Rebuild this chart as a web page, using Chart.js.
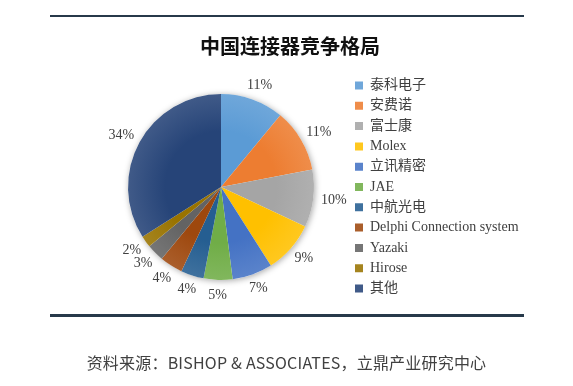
<!DOCTYPE html>
<html>
<head>
<meta charset="utf-8">
<script src="https://cdn.jsdelivr.net/npm/chart.js@4/dist/chart.umd.min.js"></script>
<style>
  html, body { margin: 0; padding: 0; background: #fff; }
  #wrap { position: relative; width: 573px; height: 386px; overflow: hidden; }
  #c { position: absolute; left: 0; top: 0; }
  .rule { position: absolute; left: 50px; width: 474px; height: 2px; background: #27394a; }
  #title { position: absolute; left: 0; width: 580px; top: 34px; text-align: center;
           font: bold 20px/24px "Noto Sans CJK SC", sans-serif; color: #111; }
  #src { position: absolute; left: 0; width: 573px; top: 350px; text-align: center;
         font: 16px "Noto Sans CJK SC", "Noto Sans", sans-serif; color: #404040; letter-spacing: .2px; }
</style>
</head>
<body>
<div id="wrap">
  <canvas id="c" width="573" height="386"></canvas>
  <div class="rule" style="top:15px"></div>
  <div id="title">中国连接器竞争格局</div>
  <div class="rule" style="top:314px;height:3px"></div>
  <div id="src">资料来源：BISHOP &amp; ASSOCIATES，立鼎产业研究中心</div>
</div>
<script>
/* 中国连接器竞争格局 — market share, % */
var companies = ['泰科电子', '安费诺', '富士康', 'Molex', '立讯精密', 'JAE', '中航光电',
                 'Delphi Connection system', 'Yazaki', 'Hirose', '其他'];
var shares = [11, 11, 10, 9, 7, 5, 4, 4, 3, 2, 34];
var colors = ['#5B9BD5', '#ED7D31', '#A5A5A5', '#FFC000', '#4472C4', '#70AD47',
              '#255E91', '#9E480E', '#636363', '#997300', '#264478'];

var SERIF = "'Liberation Serif', 'Noto Sans CJK SC', serif";

function lighten(hex, k) {
  var n = parseInt(hex.slice(1), 16);
  var r = n >> 16, g = (n >> 8) & 255, b = n & 255;
  r = Math.round(r + (255 - r) * k); g = Math.round(g + (255 - g) * k); b = Math.round(b + (255 - b) * k);
  return 'rgb(' + r + ',' + g + ',' + b + ')';
}

/* soft shadow under the whole pie */
var pieShadow = {
  id: 'pieShadow',
  beforeDatasetsDraw: function (chart) {
    var a = chart.getDatasetMeta(0).data[0];
    if (!a) return;
    var ctx = chart.ctx;
    ctx.save();
    ctx.shadowColor = 'rgba(0,0,0,.35)';
    ctx.shadowBlur = 6;
    ctx.shadowOffsetX = 1;
    ctx.shadowOffsetY = 1;
    ctx.beginPath();
    ctx.arc(a.x, a.y, a.outerRadius, 0, Math.PI * 2);
    ctx.fillStyle = '#fff';
    ctx.fill();
    ctx.restore();
  }
};

/* percentage labels outside each slice */
var pctLabels = {
  id: 'pctLabels',
  afterDatasetsDraw: function (chart) {
    var ctx = chart.ctx;
    ctx.save();
    ctx.font = '14px ' + SERIF;
    ctx.fillStyle = '#404040';
    ctx.textAlign = 'center';
    ctx.textBaseline = 'middle';
    chart.getDatasetMeta(0).data.forEach(function (arc, i) {
      var ang = (arc.startAngle + arc.endAngle) / 2;
      var cs = Math.cos(ang), sn = Math.sin(ang);
      var r = arc.outerRadius + 8;
      var txt = shares[i] + '%';
      var hw = ctx.measureText(txt).width / 2;
      ctx.fillText(txt, arc.x + cs * (r + hw), arc.y + sn * (r + 7));
    });
    ctx.restore();
  }
};

new Chart(document.getElementById('c'), {
  type: 'pie',
  data: {
    labels: companies,
    datasets: [{
      data: shares,
      radius: 93,
      borderWidth: 0,
      backgroundColor: function (c) {
        var base = colors[c.dataIndex];
        var ca = c.chart.chartArea;
        if (!ca) return base;
        var cx = (ca.left + ca.right) / 2, cy = (ca.top + ca.bottom) / 2;
        var g = c.chart.ctx.createRadialGradient(cx, cy, 0, cx, cy, 93);
        g.addColorStop(0, base);
        g.addColorStop(0.6, base);
        g.addColorStop(1, lighten(base, 0.12));
        return g;
      }
    }]
  },
  options: {
    responsive: false,
    animation: false,
    layout: { padding: { left: 93.3, right: 52.3, top: 68, bottom: 80 } },
    plugins: {
      legend: {
        position: 'right',
        fullSize: false,
        maxWidth: 172,
        labels: {
          boxWidth: 8,
          boxHeight: 8,
          padding: 6.3,
          color: '#404040',
          font: { family: SERIF, size: 14 }
        }
      },
      tooltip: { enabled: false }
    }
  },
  plugins: [pieShadow, pctLabels]
});
</script>
</body>
</html>
